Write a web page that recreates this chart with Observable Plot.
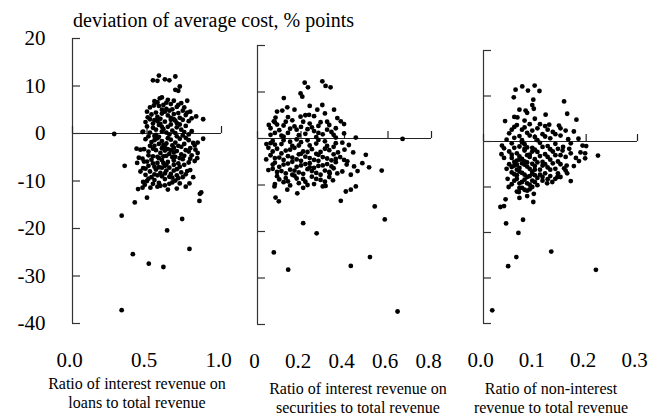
<!DOCTYPE html>
<html><head><meta charset="utf-8">
<script src="https://cdn.jsdelivr.net/npm/d3@7"></script>
<script src="https://cdn.jsdelivr.net/npm/@observablehq/plot@0.6"></script>
<style>
body{margin:0;background:#fff;}
#chart{position:relative;width:648px;height:418px;font-family:"Liberation Serif","DejaVu Serif","Noto Serif","Times New Roman",serif;color:#000;overflow:hidden;}
#chart svg{position:absolute;top:0;}
.lbl{position:absolute;text-align:center;white-space:nowrap;font-size:16px;line-height:19px;}
.ttl{position:absolute;white-space:nowrap;font-size:20px;line-height:20px;}
</style></head><body><div id="chart"></div>
<script>
const title = "deviation of average cost, % points";
const yTicks = [-40, -30, -20, -10, 0, 10, 20];
const loansTicks = [0, 0.5, 1.0];
const securitiesTicks = [0, 0.2, 0.4, 0.6, 0.8];
const nonInterestTicks = [0, 0.1, 0.2, 0.3];
const loansTitle = ["Ratio of interest revenue on", "loans to total revenue"];
const securitiesTitle = ["Ratio of interest revenue on", "securities to total revenue"];
const nonInterestTitle = ["Ratio of non-interest", "revenue to total revenue"];

// ratio, deviation of average cost (% points)
const loansPoints = [
[0.54,11.2],[0.57,11.1],[0.58,12.2],[0.62,11.4],[0.65,11.2],[0.69,12.0],[0.69,9.2],[0.71,9.0],[0.72,9.9],
[0.586,7.4],[0.557,6.5],[0.546,5.9],[0.63,6.5],[0.77,6.9],[0.71,6.0],[0.67,5.1],[0.75,5.5],[0.79,4.6],[0.83,3.6],[0.877,3.0],[0.505,3.4],[0.474,0.4],[0.28,-0.1],[0.877,-1.1],
[0.43,-3.2],[0.456,-3.4],[0.35,-6.8],[0.434,-6.2],[0.445,-5.1],[0.48,-5.9],[0.474,-7.3],[0.456,-8.0],[0.49,-8.7],[0.474,-10.2],[0.485,-10.8],[0.523,-11.4],[0.5,-13.5],[0.418,-14.5],[0.33,-17.3],[0.635,-20.4],[0.736,-18.0],[0.855,-12.7],[0.864,-12.4],[0.852,-14.2],[0.70,-11.6],[0.76,-11.2],[0.785,-10.5],[0.81,-9.2],[0.79,-7.7],[0.837,-5.2],[0.84,-1.9],[0.81,-2.0],[0.825,-3.4],[0.84,-4.1],
[0.405,-25.4],[0.512,-27.4],[0.61,-28.1],[0.785,-24.3],[0.33,-37.2],[0.44,-11.7],[0.47,-11.4],
[0.55,6.8],[0.6,7.6],[0.66,6.2],[0.58,5.8],[0.52,5.5],[0.63,5.2],[0.7,5.6],[0.74,4.8],[0.5,4.6],
[0.53,4.0],[0.57,3.5],[0.6,4.2],[0.64,3.8],[0.68,4.1],[0.72,3.3],[0.76,3.9],[0.8,3.2],[0.55,2.8],[0.62,2.5],[0.66,2.9],[0.7,2.2],[0.78,2.6],[0.49,2.4],
[0.5,1.5],[0.54,1.2],[0.58,1.8],[0.61,0.9],[0.64,1.4],[0.67,0.6],[0.7,1.3],[0.73,0.8],[0.76,1.6],[0.8,0.5],[0.52,0.2],[0.56,-0.3],[0.6,0.4],[0.65,-0.2],[0.69,0.1],[0.74,-0.4],[0.47,0.3],
[0.49,-1.2],[0.53,-1.8],[0.57,-1.0],[0.6,-1.6],[0.63,-2.1],[0.66,-1.3],[0.69,-1.9],[0.72,-1.1],[0.75,-2.2],[0.78,-1.4],[0.82,-2.5],[0.55,-2.6],[0.62,-2.9],[0.68,-3.0],
[0.48,-3.3],[0.51,-3.8],[0.56,-3.5],[0.59,-4.1],[0.62,-3.6],[0.65,-4.3],[0.7,-3.7],[0.73,-4.4],[0.76,-3.5],[0.8,-4.6],[0.54,-4.8],[0.67,-5.0],
[0.47,-5.3],[0.5,-5.9],[0.53,-5.5],[0.57,-6.2],[0.6,-5.6],[0.64,-6.0],[0.68,-5.7],[0.71,-6.3],[0.74,-5.4],[0.78,-6.1],[0.82,-5.8],[0.62,-6.8],[0.55,-7.0],
[0.49,-7.4],[0.52,-8.0],[0.56,-7.6],[0.59,-8.3],[0.63,-7.8],[0.66,-8.5],[0.7,-7.5],[0.73,-8.2],[0.77,-7.9],[0.6,-9.0],[0.67,-9.3],[0.53,-9.2],
[0.5,-10.0],[0.55,-9.8],[0.58,-10.4],[0.62,-9.6],[0.65,-10.6],[0.69,-9.9],[0.72,-10.5],[0.57,-11.2],[0.64,-11.8],
[0.58,-2.2],[0.61,-4.8],[0.64,-1.0],[0.59,2.0],[0.63,-6.6],[0.66,3.3],[0.56,0.8],[0.71,-2.6],[0.6,-7.2],[0.68,-4.0],[0.57,-8.8],[0.7,-8.8],[0.65,4.8],[0.61,6.0],[0.55,-1.4],
[0.52,3.0],[0.56,4.4],[0.59,3.1],[0.62,4.6],[0.68,3.0],[0.71,4.3],[0.74,2.9],[0.77,4.4],
[0.51,-0.6],[0.54,2.1],[0.57,2.6],[0.6,1.4],[0.63,0.2],[0.66,1.9],[0.69,2.7],[0.72,1.9],[0.75,0.3],[0.78,-0.2],
[0.52,-2.6],[0.55,-0.5],[0.58,-0.7],[0.61,-2.4],[0.64,-3.3],[0.67,-2.5],[0.7,-0.6],[0.73,-2.8],[0.76,-0.9],[0.79,-3.1],
[0.51,-4.6],[0.54,-3.2],[0.57,-4.9],[0.6,-3.1],[0.63,-4.7],[0.66,-3.5],[0.69,-4.9],[0.72,-5.2],[0.75,-4.7],[0.78,-3.8],
[0.51,-6.8],[0.54,-6.3],[0.58,-5.2],[0.61,-6.2],[0.65,-7.2],[0.68,-6.6],[0.72,-7.0],[0.75,-6.6],[0.79,-5.3],
[0.51,-9.5],[0.55,-8.6],[0.58,-7.1],[0.62,-8.4],[0.65,-9.1],[0.68,-7.8],[0.71,-9.4],[0.74,-9.2],[0.76,-8.6],
[0.59,-11.0],[0.62,-10.9],[0.67,-10.3],[0.54,-10.6],[0.6,5.0],[0.57,6.6],[0.68,6.9],[0.64,7.1],[0.73,6.4]
];
const securitiesPoints = [
[0.217,12.0],[0.232,11.0],[0.298,12.3],[0.313,11.3],[0.336,11.0],[0.198,9.7],[0.206,9.0],[0.121,8.7],[0.137,6.7],[0.114,6.0],[0.298,7.2],[0.352,6.2],[0.083,4.5],[0.052,2.9],[0.075,3.7],[0.198,4.7],[0.237,5.1],[0.275,6.2],[0.367,4.4],[0.383,3.7],[0.36,2.2],[0.398,1.1],[0.398,3.1],[0.452,0.2],[0.667,-0.1],[0.041,-1.2],[0.06,-1.0],
[0.498,-3.5],[0.513,-6.2],[0.482,-5.3],[0.571,-6.9],[0.444,-6.0],[0.429,-7.8],[0.078,-10.3],[0.083,-12.7],[0.098,-13.5],[0.383,-13.4],[0.539,-14.6],[0.452,-10.3],[0.429,-11.0],[0.406,-11.4],[0.183,-11.8],[0.137,-11.0],[0.313,-10.2],[0.347,-9.0],[0.367,-7.5],[0.39,-7.1],[0.332,-7.5],[0.398,-4.6],[0.413,-4.9],
[0.585,-17.4],[0.21,-18.2],[0.272,-20.4],[0.075,-24.5],[0.141,-28.2],[0.429,-27.4],[0.517,-25.5],[0.644,-37.2],
[0.08,3.5],[0.12,2.8],[0.16,3.9],[0.2,2.5],[0.24,3.2],[0.28,2.7],[0.32,3.6],[0.1,1.8],[0.14,1.2],[0.18,1.9],[0.22,1.0],[0.26,1.6],[0.3,0.9],[0.34,1.4],[0.06,0.8],
[0.07,-0.5],[0.11,-1.2],[0.15,-0.7],[0.19,-1.5],[0.23,-0.4],[0.27,-1.1],[0.31,-0.6],[0.35,-1.8],[0.39,-0.9],[0.09,-2.2],[0.13,-2.6],[0.17,-2.0],[0.21,-2.8],[0.25,-2.3],[0.29,-2.9],[0.33,-2.5],[0.37,-3.0],
[0.06,-3.6],[0.1,-4.1],[0.14,-3.8],[0.18,-4.5],[0.22,-3.9],[0.26,-4.6],[0.3,-4.0],[0.34,-4.7],[0.08,-5.2],[0.12,-5.6],[0.16,-5.0],[0.2,-5.8],[0.24,-5.3],[0.28,-5.9],[0.32,-5.5],[0.36,-5.1],
[0.07,-6.5],[0.11,-7.0],[0.15,-6.7],[0.19,-7.3],[0.23,-6.6],[0.27,-7.4],[0.31,-6.9],[0.09,-8.1],[0.13,-8.5],[0.17,-8.0],[0.21,-8.7],[0.25,-8.2],[0.29,-8.9],[0.33,-8.3],[0.19,-9.6],[0.26,-9.8],[0.12,-9.4],
[0.05,-2.0],[0.04,-4.5],[0.05,-6.8],[0.18,-0.2],[0.2,-3.3],[0.24,-6.2],[0.16,-7.8],[0.28,-3.5],[0.22,5.0],[0.14,4.6],[0.26,4.8],[0.31,5.4],[0.12,0.4],[0.27,0.3],[0.36,0.2],[0.4,-2.4],[0.42,-1.4],[0.38,-4.0],[0.41,-5.6],[0.06,2.2],[0.09,5.8],[0.17,6.2],[0.24,7.0],[0.08,-9.8],[0.3,-10.3],[0.21,-10.6],[0.44,-3.0],[0.46,-7.0],[0.35,-6.4],
[0.09,3.0],[0.13,3.6],[0.17,2.6],[0.21,3.6],[0.25,2.4],[0.29,3.5],[0.33,2.9],
[0.08,1.2],[0.11,0.6],[0.15,2.1],[0.19,0.7],[0.23,2.0],[0.28,1.2],[0.32,1.9],[0.35,0.8],
[0.08,-1.3],[0.12,-0.4],[0.16,-1.6],[0.2,-0.8],[0.24,-1.5],[0.28,-0.3],[0.32,-1.6],[0.36,-1.0],
[0.07,-2.8],[0.11,-3.2],[0.15,-2.4],[0.19,-3.4],[0.23,-2.9],[0.27,-3.3],[0.31,-2.2],[0.35,-3.4],
[0.08,-4.2],[0.12,-4.6],[0.16,-4.1],[0.2,-4.8],[0.24,-4.2],[0.28,-4.8],[0.32,-4.3],[0.36,-4.4],
[0.07,-5.6],[0.1,-6.1],[0.14,-5.4],[0.18,-6.1],[0.22,-5.5],[0.26,-6.3],[0.3,-5.8],[0.34,-6.0],
[0.09,-7.2],[0.13,-7.5],[0.17,-6.9],[0.21,-7.6],[0.25,-7.0],[0.29,-7.8],[0.33,-7.2],
[0.1,-8.8],[0.14,-9.2],[0.18,-8.6],[0.22,-9.3],[0.27,-8.7],[0.31,-9.3],[0.15,-10.1],[0.23,-10.0]
];
const nonInterestPoints = [
[0.0755,12.1],[0.0625,11.4],[0.0866,11.2],[0.0996,12.3],[0.109,11.1],[0.059,9.7],[0.097,9.2],[0.157,8.8],[0.163,6.1],[0.181,4.8],[0.121,5.9],[0.098,7.2],[0.082,6.8],[0.066,5.3],[0.042,4.5],[0.147,3.5],[0.128,3.7],[0.176,2.2],[0.15,2.9],[0.16,2.4],
[0.193,-0.9],[0.189,-2.4],[0.198,-2.6],[0.223,-3.1],[0.198,-3.7],[0.186,-4.3],[0.17,-8.7],[0.036,-0.9],[0.04,-3.6],[0.045,-6.0],[0.047,-8.2],[0.049,-10.0],[0.043,-12.7],[0.033,-14.4],[0.04,-14.2],[0.097,-13.3],[0.124,-9.2],[0.134,-8.9],[0.15,-7.8],[0.163,-7.0],[0.176,-5.4],[0.069,-11.1],[0.098,-11.5],
[0.044,-18.0],[0.077,-17.2],[0.068,-20.1],[0.132,-24.2],[0.064,-25.4],[0.048,-27.4],[0.219,-28.2],[0.017,-37.1],[0.157,-5.9],[0.154,-2.0],[0.167,-1.6],[0.162,-5.3],[0.144,-7.8],
[0.06,3.2],[0.075,2.6],[0.09,3.8],[0.105,2.9],[0.12,3.4],[0.135,2.1],[0.05,1.8],[0.07,1.2],[0.085,1.9],[0.1,1.0],[0.115,1.6],[0.13,0.7],[0.15,1.3],[0.165,0.5],[0.045,0.4],
[0.055,-0.4],[0.07,-1.1],[0.08,-0.6],[0.095,-1.4],[0.11,-0.3],[0.125,-1.0],[0.14,-0.5],[0.155,-1.2],[0.17,-0.4],[0.05,-2.2],[0.065,-2.6],[0.08,-2.0],[0.09,-2.9],[0.105,-2.3],[0.12,-2.8],[0.135,-2.2],[0.15,-3.0],
[0.055,-3.6],[0.065,-4.2],[0.075,-3.8],[0.085,-4.6],[0.1,-3.9],[0.115,-4.5],[0.13,-4.0],[0.145,-4.4],[0.16,-3.4],[0.06,-5.3],[0.07,-5.8],[0.08,-5.1],[0.09,-6.0],[0.1,-5.4],[0.11,-6.2],[0.125,-5.7],[0.14,-6.0],[0.15,-5.0],
[0.055,-6.8],[0.065,-7.4],[0.075,-6.9],[0.085,-7.8],[0.095,-7.1],[0.105,-8.0],[0.06,-8.6],[0.07,-9.2],[0.08,-8.4],[0.09,-9.5],[0.1,-8.9],[0.075,-10.2],[0.085,-10.8],[0.095,-10.0],[0.065,-11.0],
[0.06,5.4],[0.08,4.6],[0.1,5.0],[0.07,7.0],[0.085,6.3],[0.095,8.0],[0.08,-1.6],[0.09,-3.4],[0.075,-4.8],[0.095,-6.6],[0.065,-6.2],[0.11,-7.3],[0.12,-7.0],[0.13,-7.6],[0.14,-8.2],[0.115,-8.6],[0.185,0.6],[0.2,-1.0],[0.17,-2.6],[0.18,-3.6],[0.16,-6.4],[0.145,-7.0],[0.07,-12.4],[0.085,-12.0],[0.05,-5.0],[0.04,-1.5],[0.035,-2.8],
[0.055,2.6],[0.065,3.6],[0.08,3.1],[0.095,2.4],[0.11,3.8],[0.125,2.6],
[0.06,0.8],[0.075,0.3],[0.09,1.3],[0.105,0.3],[0.12,1.1],[0.14,1.6],
[0.06,-1.4],[0.075,-0.2],[0.085,-1.3],[0.1,-1.8],[0.115,-1.2],[0.13,-1.7],[0.145,-1.6],
[0.055,-2.9],[0.07,-3.3],[0.085,-3.0],[0.095,-2.2],[0.11,-3.2],[0.125,-3.4],[0.14,-3.0],
[0.06,-4.5],[0.07,-4.0],[0.08,-4.4],[0.095,-4.9],[0.105,-4.6],[0.12,-5.0],[0.135,-4.8],
[0.055,-5.6],[0.065,-5.1],[0.085,-5.5],[0.1,-6.2],[0.115,-5.3],[0.13,-6.2],
[0.06,-7.2],[0.07,-6.6],[0.08,-7.3],[0.09,-7.6],[0.1,-7.4],[0.115,-7.8],[0.125,-8.3],
[0.055,-9.4],[0.065,-8.2],[0.075,-8.9],[0.085,-9.2],[0.095,-8.6],[0.105,-9.6],[0.08,-10.6],[0.07,-10.2],[0.09,-10.5]
];

const chart = document.getElementById("chart");
const FONT = '"Liberation Serif","DejaVu Serif","Noto Serif","Times New Roman",serif';
const H = 418;

function panel(o) {
  const innerW = o.width - o.ml - o.mr, innerH = H - o.mt - o.mb;
  const xs = o.xDomain[1] - o.xDomain[0], ys = 60;
  const tickLenX = 8 * xs / innerW, tickLenY = 7 * ys / innerH;
  const marks = [
    Plot.ruleX([o.xDomain[0]], {stroke: "#333", strokeWidth: 1.2}),
    Plot.ruleY([0], {stroke: "#222", strokeWidth: 1.2}),
    Plot.ruleY(yTicks, {y: d => d, x1: o.xDomain[0], x2: o.xDomain[0] + tickLenX, stroke: "#333", strokeWidth: 1.2}),
    Plot.ruleX(o.xTicks, {x: d => d, y1: 0, y2: tickLenY, stroke: "#222", strokeWidth: 1.2}),
    Plot.axisX(o.xTicks, {anchor: "bottom", tickSize: 0, tickPadding: 29, tickFormat: o.xFormat, fontSize: 21, dx: -3}),
    Plot.dot(o.points, {x: d => d[0], y: d => d[1], r: 2.4, fill: "#000"})
  ];
  if (o.showY) marks.push(Plot.axisY(yTicks, {anchor: "left", tickSize: 0, tickPadding: 27, tickFormat: d => String(d), fontSize: 21}));
  const svg = Plot.plot({
    width: o.width, height: H,
    marginLeft: o.ml, marginRight: o.mr, marginTop: o.mt, marginBottom: o.mb,
    style: {fontFamily: FONT, background: "transparent", overflow: "visible"},
    x: {domain: o.xDomain, axis: null},
    y: {domain: [-40, 20], axis: o.showY ? undefined : null},
    marks
  });
  svg.style.left = o.left + "px";
  chart.appendChild(svg);
  const d = document.createElement("div");
  d.className = "lbl";
  d.style.left = (o.titleX - 120) + "px";
  d.style.width = "240px";
  d.style.top = o.titleTop + "px";
  d.innerHTML = o.title.join("<br>");
  chart.appendChild(d);
}

panel({points: loansPoints, xDomain: [0, 1], xTicks: loansTicks, xFormat: d => d.toFixed(1),
  left: 0, width: 230, ml: 72, mr: 9, mt: 38, mb: 95, showY: true,
  title: loansTitle, titleX: 137, titleTop: 374});
panel({points: securitiesPoints, xDomain: [0, 0.8], xTicks: securitiesTicks, xFormat: d => d === 0 ? "0" : d.toFixed(1),
  left: 230, width: 210, ml: 27, mr: 9, mt: 45, mb: 94, showY: false,
  title: securitiesTitle, titleX: 358, titleTop: 379});
panel({points: nonInterestPoints, xDomain: [0, 0.3], xTicks: nonInterestTicks, xFormat: d => d.toFixed(1),
  left: 450, width: 198, ml: 33, mr: 11, mt: 50, mb: 95, showY: false,
  title: nonInterestTitle, titleX: 551, titleTop: 379});

const t = document.createElement("div");
t.className = "ttl";
t.style.left = "73px";
t.style.top = "10px";
t.textContent = title;
chart.appendChild(t);
</script>
</body></html>
